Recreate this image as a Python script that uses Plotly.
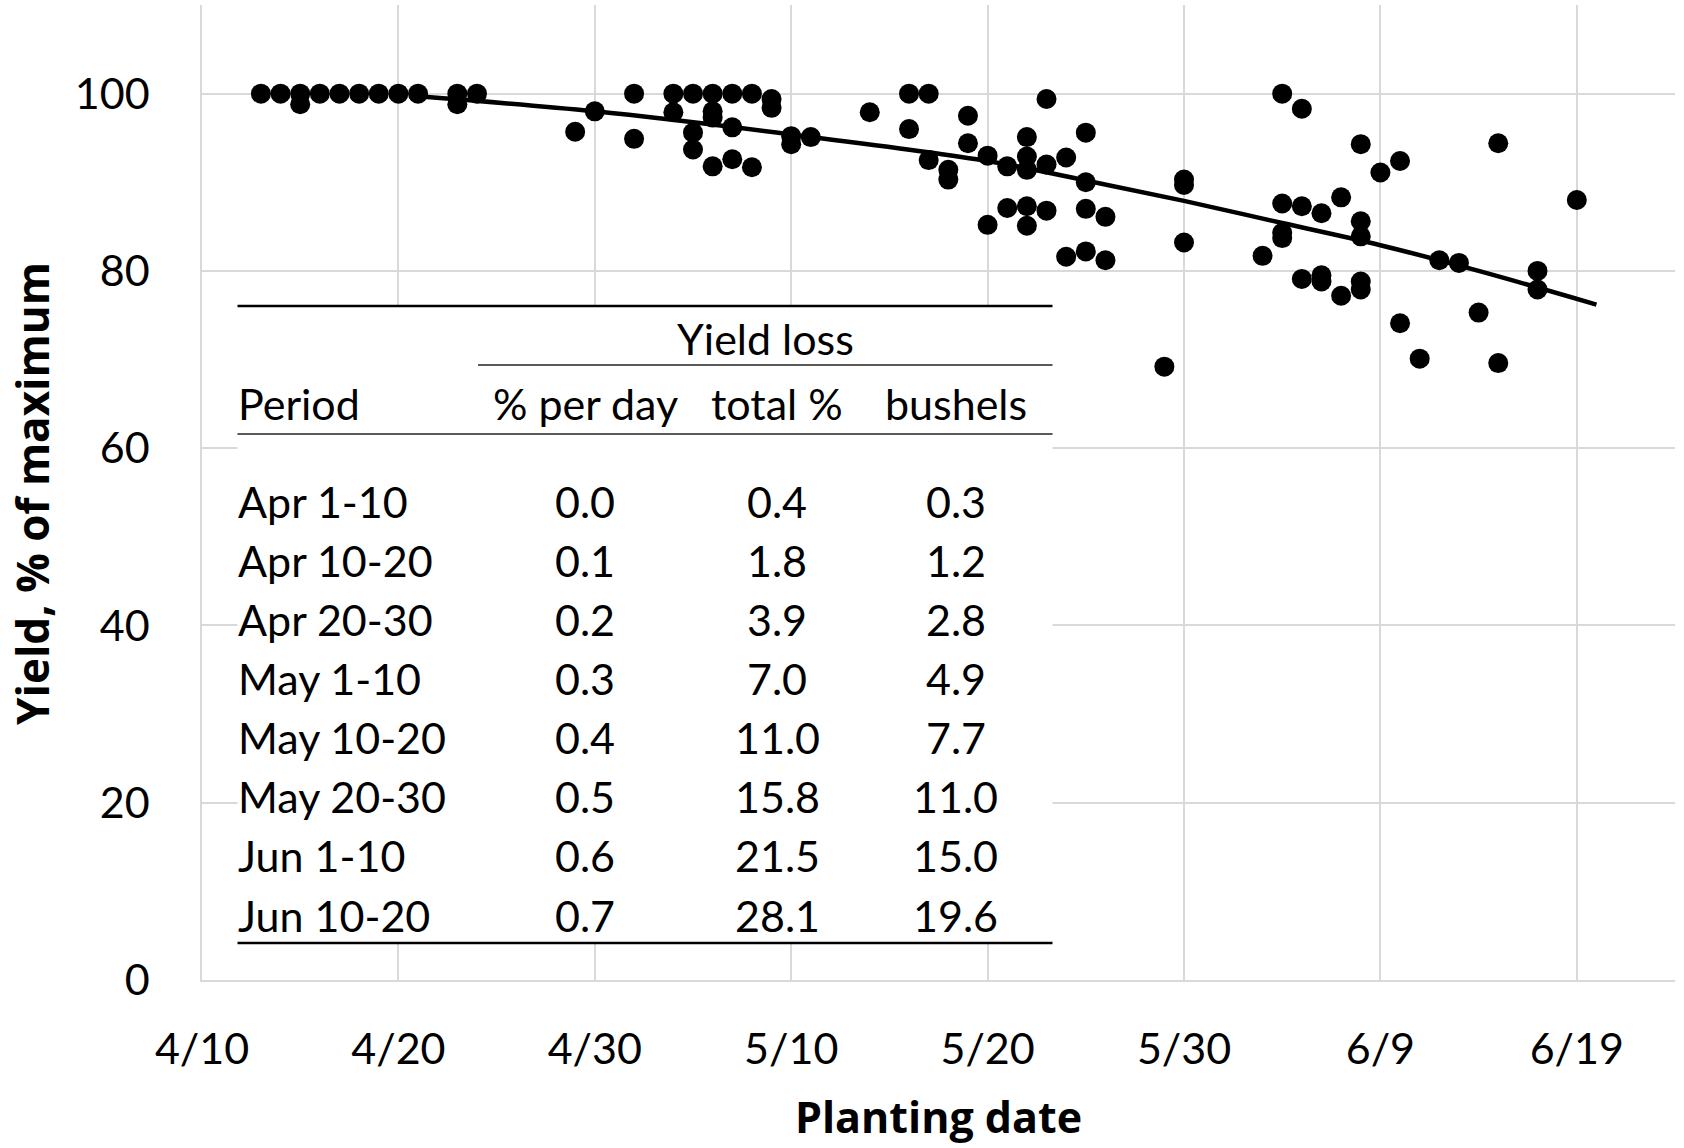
import plotly.graph_objects as go

# ---------------- data ----------------
YEAR = "2021"
pt_dates = [
    "04-13", "04-14", "04-15", "04-15", "04-16", "04-17", "04-18", "04-19", "04-20", "04-21",
    "04-23", "04-23", "04-24", "04-29", "04-30",
    "05-02", "05-02", "05-04", "05-04", "05-05", "05-05", "05-05",
    "05-06", "05-06", "05-06", "05-06", "05-07", "05-07", "05-07", "05-08", "05-08",
    "05-09", "05-09", "05-10", "05-10", "05-11", "05-14", "05-16", "05-16", "05-17", "05-17",
    "05-18", "05-18", "05-19", "05-19", "05-20", "05-20", "05-21", "05-21",
    "05-22", "05-22", "05-22", "05-22", "05-22", "05-23", "05-23", "05-23",
    "05-24", "05-24", "05-25", "05-25", "05-25", "05-25", "05-26", "05-26",
    "05-29", "05-30", "05-30", "05-30",
    "06-03", "06-04", "06-04", "06-04", "06-04", "06-05", "06-05", "06-05",
    "06-06", "06-06", "06-06", "06-07", "06-07",
    "06-08", "06-08", "06-08", "06-08", "06-08", "06-09", "06-10", "06-10",
    "06-11", "06-12", "06-13", "06-14", "06-15", "06-15", "06-17", "06-17", "06-19",
]
pt_yield = [
    100, 100, 100, 98.8, 100, 100, 100, 100, 100, 100,
    100, 98.8, 100, 95.7, 98.0,
    100, 94.9, 100, 97.9, 100, 95.6, 93.7,
    100, 98.0, 97.3, 91.8, 100, 96.2, 92.6, 100, 91.7,
    99.4, 98.4, 95.2, 94.3, 95.1, 97.9, 100, 96.0, 100, 92.5,
    91.4, 90.3, 97.5, 94.4, 93.0, 85.2, 91.8, 87.1,
    95.1, 92.9, 91.4, 87.3, 85.1, 99.4, 92.0, 86.8,
    92.8, 81.6, 95.6, 90.0, 87.0, 82.2, 86.1, 81.2,
    69.2, 90.3, 89.7, 83.2,
    81.7, 100, 87.6, 84.3, 83.7, 98.3, 87.3, 79.1,
    86.5, 79.5, 78.8, 88.3, 77.2,
    94.3, 85.6, 83.9, 78.8, 77.9, 91.1, 92.4, 74.1,
    70.1, 81.2, 80.9, 75.3, 94.4, 69.6, 80.0, 77.9, 88.0,
]

trend_dates = ["04-21", "04-30", "05-10", "05-20", "05-25", "05-30", "06-04", "06-09", "06-14", "06-20"]
trend_yield = [99.7, 98.0, 95.4, 92.4, 90.2, 87.9, 85.4, 82.9, 80.0, 76.2]

periods = ["Apr 1-10", "Apr 10-20", "Apr 20-30", "May 1-10",
           "May 10-20", "May 20-30", "Jun 1-10", "Jun 10-20"]
loss_per_day = [0.0, 0.1, 0.2, 0.3, 0.4, 0.5, 0.6, 0.7]
loss_total = [0.4, 1.8, 3.9, 7.0, 11.0, 15.8, 21.5, 28.1]
loss_bushels = [0.3, 1.2, 2.8, 4.9, 7.7, 11.0, 15.0, 19.6]

x_tick_dates = ["04-10", "04-20", "04-30", "05-10", "05-20", "05-30", "06-09", "06-19"]
x_tick_text = ["4/10", "4/20", "4/30", "5/10", "5/20", "5/30", "6/9", "6/19"]
y_tick_vals = [0, 20, 40, 60, 80, 100]

x_title = "Planting date"
y_title = "Yield, % of maximum"
head_group = "Yield loss"
head_cols = ["Period", "% per day", "total %", "bushels"]

# ---------------- layout geometry (pixels) ----------------
W, H = 1684, 1148
L, R, T, B = 202, 1675, 5, 980
FONT = "Lato, 'Open Sans', sans-serif"
TFONT = "'Open Sans', Lato, sans-serif"
FS = 43


def fx(p):
    return (p - L) / (R - L)


def fy(p):
    return (B - p) / (B - T)


def d(md):
    return f"{YEAR}-{md}"


fig = go.Figure()
fig.add_trace(go.Scatter(
    x=[d(v) for v in trend_dates], y=trend_yield, mode="lines",
    line=dict(color="black", width=4.5, shape="spline", smoothing=1.0),
    hoverinfo="skip", showlegend=False,
))
fig.add_trace(go.Scatter(
    x=[d(v) for v in pt_dates], y=pt_yield, mode="markers",
    marker=dict(color="black", size=20, line=dict(width=0)),
    showlegend=False,
))

grid = "#d9d9d9"
fig.update_xaxes(
    type="date", range=[d("04-10"), d("06-24")],
    tickvals=[d(v) for v in x_tick_dates], ticktext=x_tick_text,
    showgrid=True, gridcolor=grid, gridwidth=1.5,
    showline=True, linecolor=grid, linewidth=1.5,
    zeroline=False, ticks="", ticklabelstandoff=31,
    tickfont=dict(family=FONT, size=FS, color="black"),
)
fig.update_yaxes(
    range=[0, 110], tickvals=y_tick_vals,
    showgrid=True, gridcolor=grid, gridwidth=1.5,
    showline=True, linecolor=grid, linewidth=1.5,
    zeroline=False, ticks="", ticklabelstandoff=42,
    tickfont=dict(family=FONT, size=FS, color="black"),
)

# ---------------- inset table ----------------
tbl_l, tbl_r, tbl_t, tbl_b = 237.5, 1052.5, 306, 943
shapes = [
    dict(type="rect", xref="paper", yref="paper", x0=fx(tbl_l), x1=fx(tbl_r),
         y0=fy(tbl_b), y1=fy(tbl_t), fillcolor="white", line=dict(width=0), layer="above"),
    dict(type="line", xref="paper", yref="paper", x0=fx(tbl_l), x1=fx(tbl_r),
         y0=fy(tbl_t), y1=fy(tbl_t), line=dict(color="black", width=2.5), layer="above"),
    dict(type="line", xref="paper", yref="paper", x0=fx(478), x1=fx(tbl_r),
         y0=fy(365), y1=fy(365), line=dict(color="#595959", width=2), layer="above"),
    dict(type="line", xref="paper", yref="paper", x0=fx(tbl_l), x1=fx(tbl_r),
         y0=fy(434), y1=fy(434), line=dict(color="#595959", width=2), layer="above"),
    dict(type="line", xref="paper", yref="paper", x0=fx(tbl_l), x1=fx(tbl_r),
         y0=fy(tbl_b), y1=fy(tbl_b), line=dict(color="black", width=2.5), layer="above"),
]

anns = []


def txt(s, xp, yp, xanchor="center", bold=False, angle=0, family=FONT, size=FS):
    anns.append(dict(
        text=f"<b>{s}</b>" if bold else s, xref="paper", yref="paper",
        x=fx(xp), y=fy(yp), xanchor=xanchor, yanchor="middle", showarrow=False,
        textangle=angle, font=dict(family=family, size=size, color="black"),
    ))


txt(head_group, 765, 339)
head_y = 404
txt(head_cols[0], 235.5, head_y, xanchor="left")
col_x = [585, 777, 956]
for cx, h in zip(col_x, head_cols[1:]):
    txt(h, cx, head_y)

row_y0, row_dy = 501.6, 59.06
for i, p in enumerate(periods):
    yy = row_y0 + i * row_dy
    txt(p, 235.5, yy, xanchor="left")
    txt(f"{loss_per_day[i]:.1f}", col_x[0], yy)
    txt(f"{loss_total[i]:.1f}", col_x[1], yy)
    txt(f"{loss_bushels[i]:.1f}", col_x[2], yy)

# axis titles
txt(x_title, 938, 1116, bold=True, family=TFONT, size=43)
txt(y_title, 32, 494, bold=True, angle=-90, family=TFONT, size=44)

fig.update_layout(
    width=W, height=H, autosize=False,
    margin=dict(l=L, r=W - R, t=T, b=H - B, pad=0),
    paper_bgcolor="white", plot_bgcolor="white",
    shapes=shapes, annotations=anns, showlegend=False,
    font=dict(family=FONT, size=FS, color="black"),
)

fig.write_html("out.html")
